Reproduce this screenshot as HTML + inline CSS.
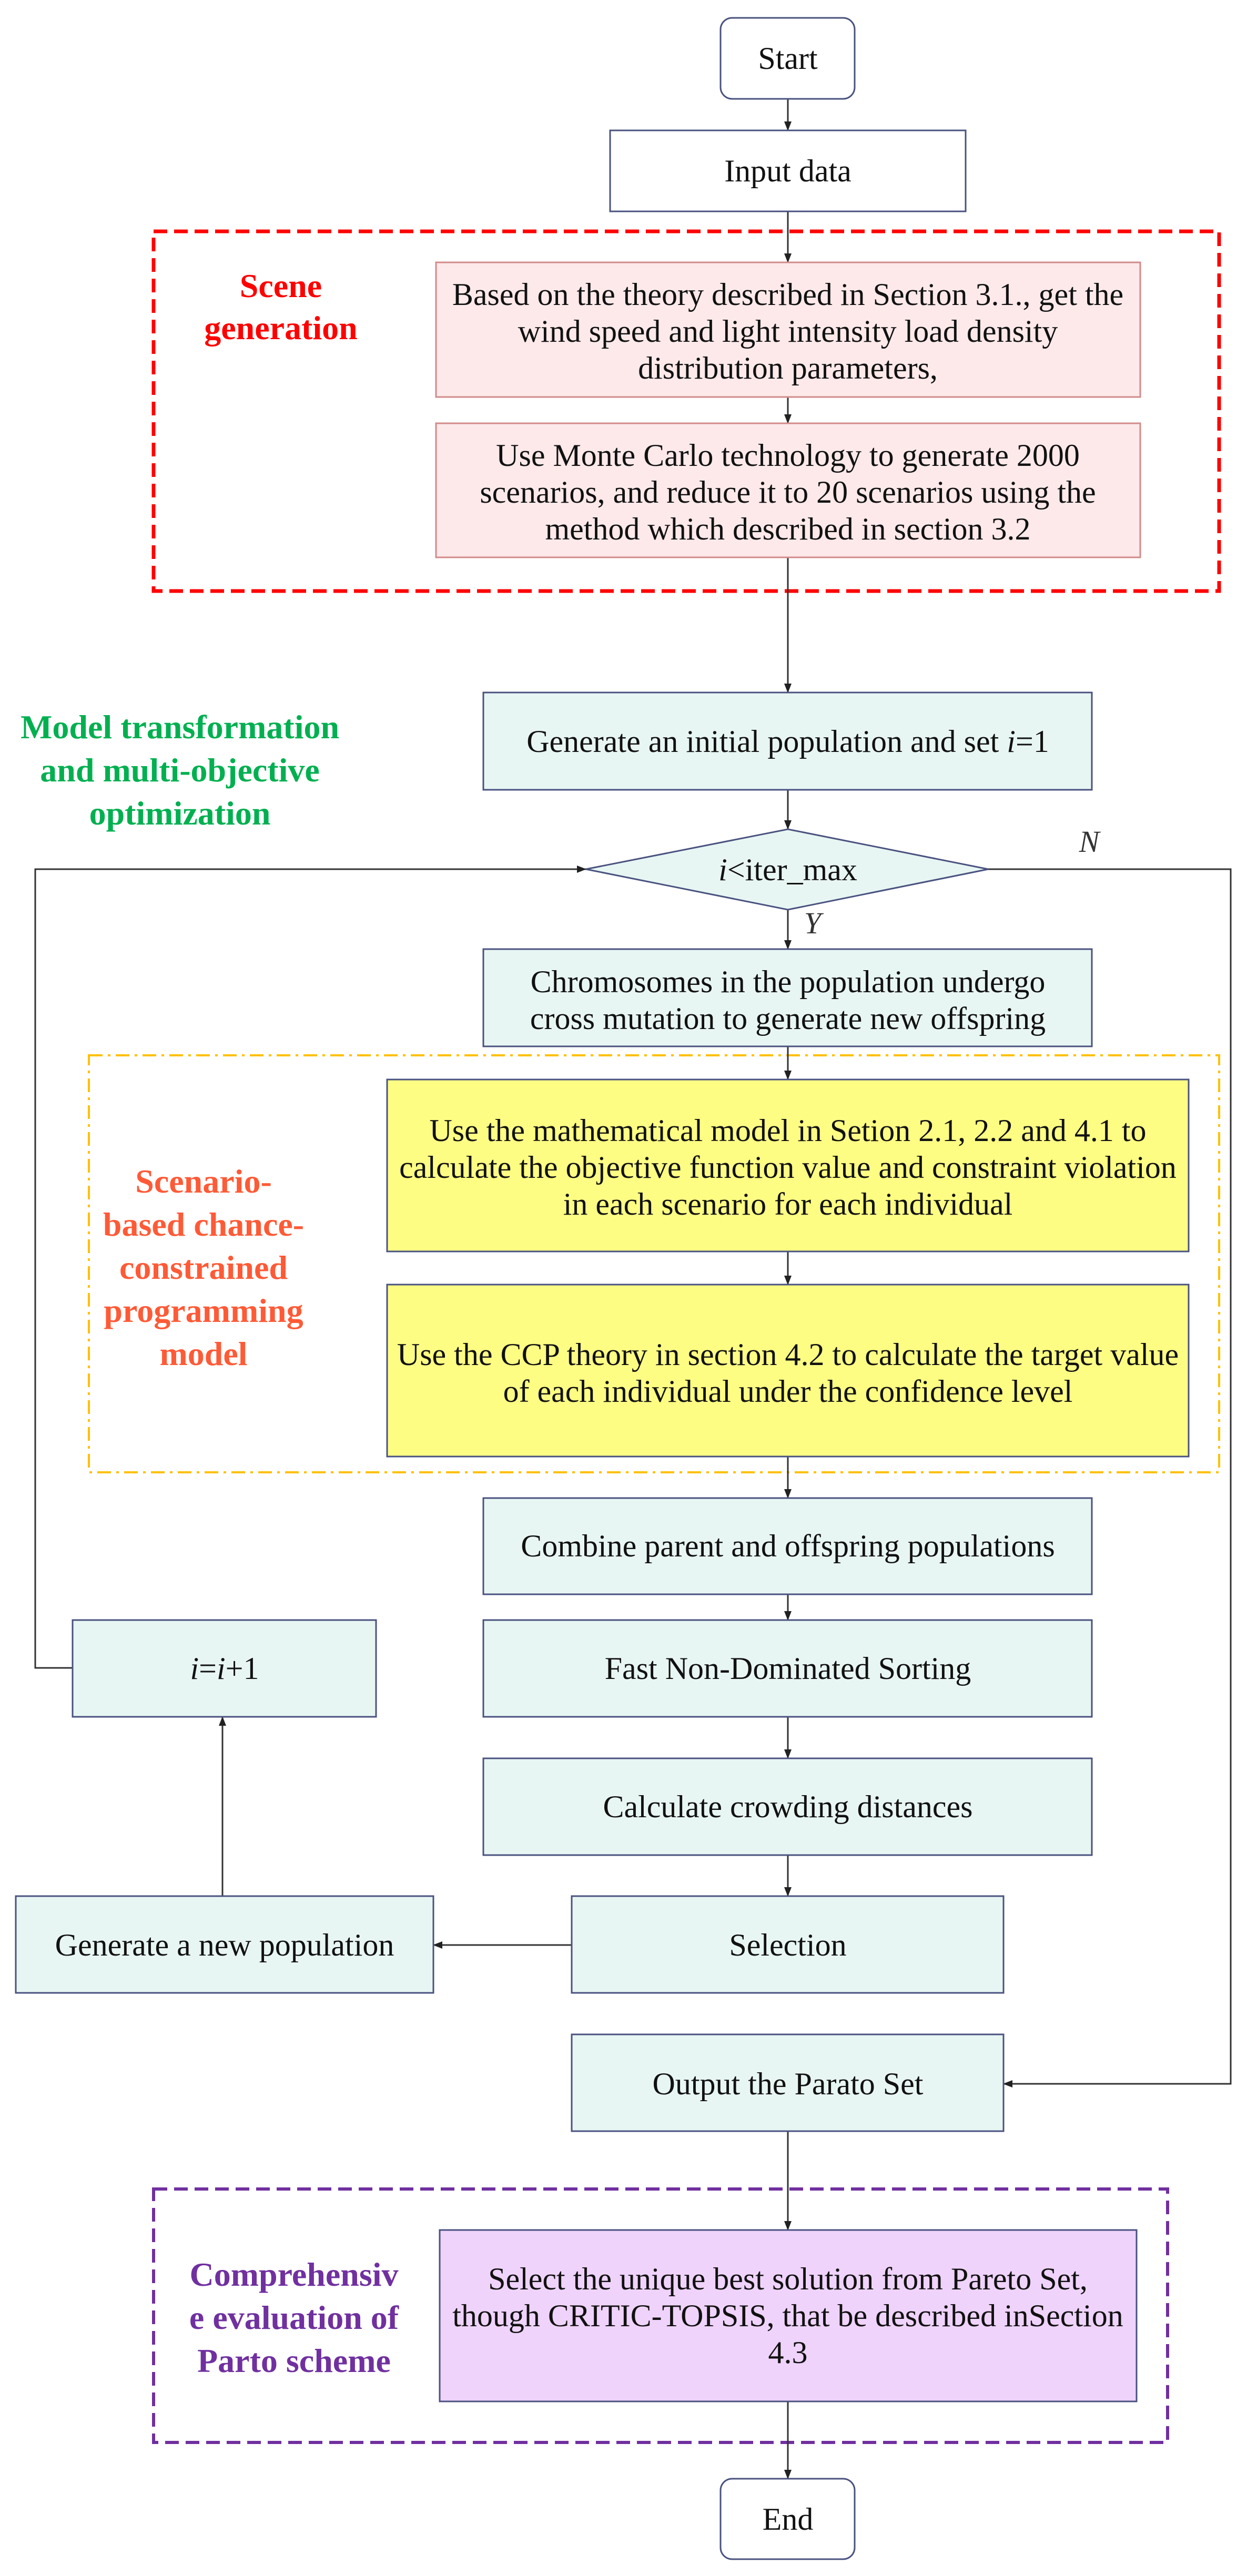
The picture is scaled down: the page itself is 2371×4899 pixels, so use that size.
<!DOCTYPE html>
<html><head><meta charset="utf-8"><style>
html,body{margin:0;padding:0;background:#fff;}
svg{display:block;}
text{font-family:"Liberation Serif",serif;}
.t{font-size:60px;fill:#111;text-anchor:middle;}
.l{font-size:64px;font-weight:bold;text-anchor:middle;}
.b{stroke:#4a5280;stroke-width:3;}
.c{fill:#e8f6f3;}
.ln{stroke:#333;stroke-width:3;fill:none;}
</style></head><body>
<svg width="2371" height="4899" viewBox="0 0 2371 4899" xmlns="http://www.w3.org/2000/svg">
<defs>
<marker id="a" markerWidth="18" markerHeight="14" refX="17" refY="7" orient="auto" markerUnits="userSpaceOnUse">
<path d="M0,0 L18,7 L0,14 Z" fill="#222"/></marker>
</defs>
<rect x="292" y="440" width="2026" height="684" fill="none" stroke="#ff0000" stroke-width="7" stroke-dasharray="26 13"/>
<rect x="169" y="2007" width="2149" height="793" fill="none" stroke="#ffc000" stroke-width="4" stroke-dasharray="26 10 5 10"/>
<rect x="292" y="4163" width="1928" height="482" fill="none" stroke="#7030a0" stroke-width="6" stroke-dasharray="26 13"/>

<line class="ln" x1="1498" y1="188" x2="1498" y2="248" marker-end="url(#a)"/>
<line class="ln" x1="1498" y1="402" x2="1498" y2="499" marker-end="url(#a)"/>
<line class="ln" x1="1498" y1="755" x2="1498" y2="805" marker-end="url(#a)"/>
<line class="ln" x1="1498" y1="1060" x2="1498" y2="1317" marker-end="url(#a)"/>
<line class="ln" x1="1498" y1="1502" x2="1498" y2="1577" marker-end="url(#a)"/>
<line class="ln" x1="1498" y1="1730" x2="1498" y2="1805" marker-end="url(#a)"/>
<line class="ln" x1="1498" y1="1990" x2="1498" y2="2053" marker-end="url(#a)"/>
<line class="ln" x1="1498" y1="2380" x2="1498" y2="2443" marker-end="url(#a)"/>
<line class="ln" x1="1498" y1="2770" x2="1498" y2="2849" marker-end="url(#a)"/>
<line class="ln" x1="1498" y1="3032" x2="1498" y2="3081" marker-end="url(#a)"/>
<line class="ln" x1="1498" y1="3265" x2="1498" y2="3344" marker-end="url(#a)"/>
<line class="ln" x1="1498" y1="3528" x2="1498" y2="3606" marker-end="url(#a)"/>
<line class="ln" x1="1087" y1="3699" x2="824" y2="3699" marker-end="url(#a)"/>
<line class="ln" x1="423" y1="3606" x2="423" y2="3265" marker-end="url(#a)"/>
<polyline class="ln" points="138,3172 67,3172 67,1653 1114,1653" marker-end="url(#a)"/>
<polyline class="ln" points="1879,1653 2340,1653 2340,3963 1908,3963" marker-end="url(#a)"/>
<line class="ln" x1="1498" y1="4053" x2="1498" y2="4241" marker-end="url(#a)"/>
<line class="ln" x1="1498" y1="4567" x2="1498" y2="4714" marker-end="url(#a)"/>

<rect x="1370" y="34" width="255" height="154" rx="22" fill="#fff" class="b"/>
<text class="t" x="1498" y="131">Start</text>
<rect x="1160" y="248" width="676" height="154" fill="#fff" class="b"/>
<text class="t" x="1498" y="345">Input data</text>

<text class="l" fill="#ff0000" x="534" y="565">Scene</text>
<text class="l" fill="#ff0000" x="534" y="645">generation</text>
<rect x="829" y="499" width="1339" height="256" fill="#fde9ea" stroke="#d38a8a" stroke-width="3"/>
<text class="t" x="1498" y="580">Based on the theory described in Section 3.1., get the</text>
<text class="t" x="1498" y="650">wind speed and light intensity load density</text>
<text class="t" x="1498" y="720">distribution parameters,</text>
<rect x="829" y="805" width="1339" height="255" fill="#fde9ea" stroke="#d38a8a" stroke-width="3"/>
<text class="t" x="1498" y="886">Use Monte Carlo technology to generate 2000</text>
<text class="t" x="1498" y="956">scenarios, and reduce it to 20 scenarios using the</text>
<text class="t" x="1498" y="1026">method which described in section 3.2</text>

<text class="l" fill="#00b050" x="342" y="1404">Model transformation</text>
<text class="l" fill="#00b050" x="342" y="1486">and multi-objective</text>
<text class="l" fill="#00b050" x="342" y="1568">optimization</text>

<rect x="919" y="1317" width="1157" height="185" class="b c"/>
<text class="t" x="1498" y="1430">Generate an initial population and set <tspan font-style="italic">i</tspan>=1</text>

<polygon points="1114,1653 1498,1577 1879,1653 1498,1730" class="b c"/>
<text class="t" x="1498" y="1674"><tspan font-style="italic">i</tspan>&lt;iter_max</text>
<text x="2071" y="1620" font-size="58" font-style="italic" fill="#333" text-anchor="middle">N</text>
<text x="1545" y="1775" font-size="58" font-style="italic" fill="#333" text-anchor="middle">Y</text>

<rect x="919" y="1805" width="1157" height="185" class="b c"/>
<text class="t" x="1498" y="1887">Chromosomes in the population undergo</text>
<text class="t" x="1498" y="1957">cross mutation to generate new offspring</text>

<text class="l" fill="#ff5a36" x="387" y="2268">Scenario-</text>
<text class="l" fill="#ff5a36" x="387" y="2350">based chance-</text>
<text class="l" fill="#ff5a36" x="387" y="2432">constrained</text>
<text class="l" fill="#ff5a36" x="387" y="2514">programming</text>
<text class="l" fill="#ff5a36" x="387" y="2596">model</text>

<rect x="736" y="2053" width="1524" height="327" fill="#fdfd84" class="b"/>
<text class="t" x="1498" y="2170">Use the mathematical model in Setion 2.1, 2.2 and 4.1 to</text>
<text class="t" x="1498" y="2240">calculate the objective function value and constraint violation</text>
<text class="t" x="1498" y="2310">in each scenario for each individual</text>
<rect x="736" y="2443" width="1524" height="327" fill="#fdfd84" class="b"/>
<text class="t" x="1498" y="2596">Use the CCP theory in section 4.2 to calculate the target value</text>
<text class="t" x="1498" y="2666">of each individual under the confidence level</text>

<rect x="919" y="2849" width="1157" height="183" class="b c"/>
<text class="t" x="1498" y="2960">Combine parent and offspring populations</text>
<rect x="919" y="3081" width="1157" height="184" class="b c"/>
<text class="t" x="1498" y="3193">Fast Non-Dominated Sorting</text>
<rect x="138" y="3081" width="577" height="184" class="b c"/>
<text class="t" x="427" y="3193"><tspan font-style="italic">i</tspan>=<tspan font-style="italic">i</tspan>+1</text>
<rect x="919" y="3344" width="1157" height="184" class="b c"/>
<text class="t" x="1498" y="3456">Calculate crowding distances</text>
<rect x="1087" y="3606" width="821" height="184" class="b c"/>
<text class="t" x="1498" y="3719">Selection</text>
<rect x="30" y="3606" width="794" height="184" class="b c"/>
<text class="t" x="427" y="3719">Generate a new population</text>

<rect x="1087" y="3869" width="821" height="184" class="b c"/>
<text class="t" x="1498" y="3983">Output the Parato Set</text>

<text class="l" fill="#7030a0" x="559" y="4347">Comprehensiv</text>
<text class="l" fill="#7030a0" x="559" y="4429">e evaluation of</text>
<text class="l" fill="#7030a0" x="559" y="4511">Parto scheme</text>
<rect x="836" y="4241" width="1325" height="326" fill="#efd3fb" class="b"/>
<text class="t" x="1498" y="4354">Select the unique best solution from Pareto Set,</text>
<text class="t" x="1498" y="4424">though CRITIC-TOPSIS, that be described inSection</text>
<text class="t" x="1498" y="4494">4.3</text>

<rect x="1370" y="4714" width="255" height="153" rx="22" fill="#fff" class="b"/>
<text class="t" x="1498" y="4811">End</text>
</svg>
</body></html>
